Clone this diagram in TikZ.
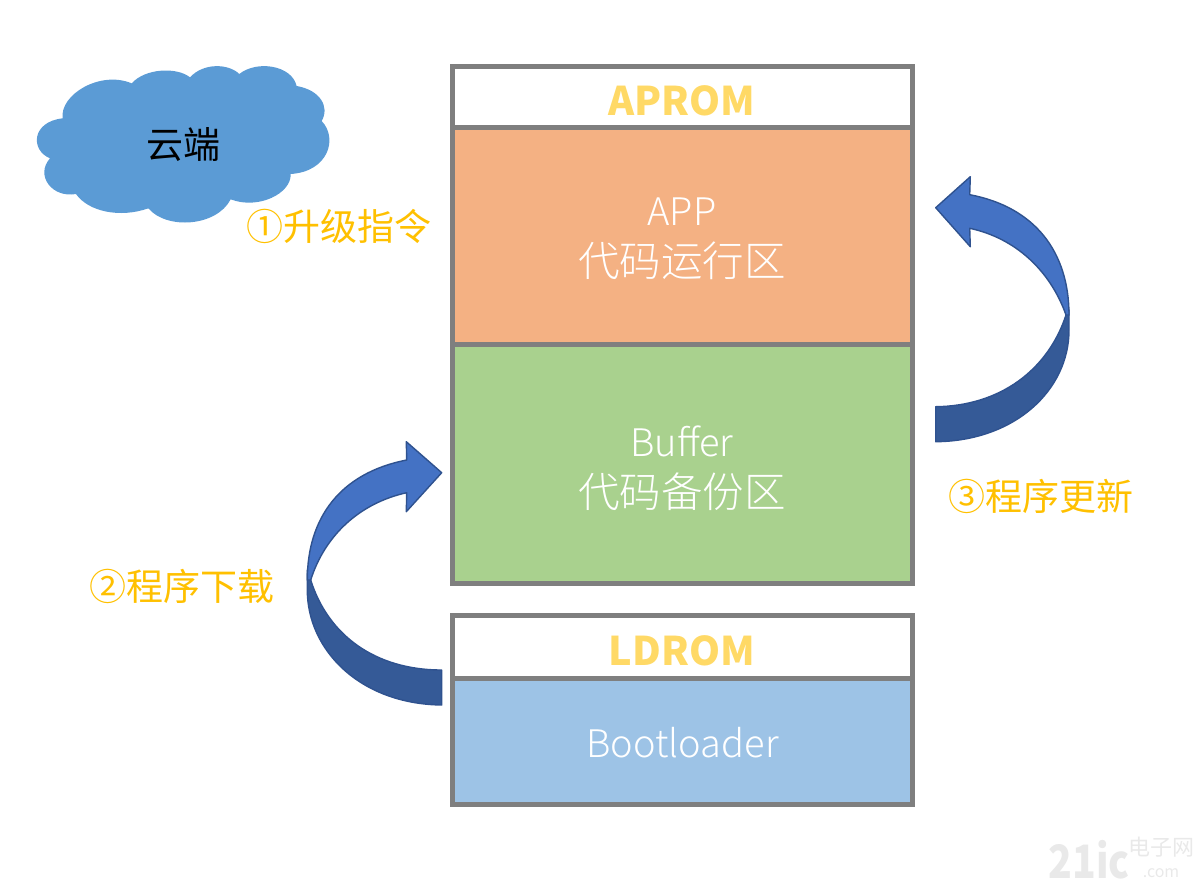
\documentclass[tikz,border=0pt]{standalone}
\usepackage{fontspec}
\setmainfont{Noto Sans CJK SC}
\newfontfamily\thinfont{Noto Sans CJK SC Light}
\usepackage{tikz}
\definecolor{memgray}{HTML}{7F7F7F}
\definecolor{appfill}{HTML}{F4B183}
\definecolor{buffill}{HTML}{A9D18E}
\definecolor{bootfill}{HTML}{9DC3E6}
\definecolor{cloudfill}{HTML}{5B9BD5}
\definecolor{arrowlight}{HTML}{4472C4}
\definecolor{arrowdark}{HTML}{355A97}
\definecolor{arrowline}{HTML}{2F528F}
\definecolor{steporange}{HTML}{FFC000}
\definecolor{romyellow}{HTML}{FFD966}
\definecolor{markgray}{HTML}{E9E9E9}
\newcommand{\zhsize}{\fontsize{41.5}{51}\selectfont}
\newcommand{\ensize}{\fontsize{38}{51}\selectfont}
\tikzset{
  membox/.style={draw=memgray, line width=5pt, minimum width=460pt, inner sep=0pt, align=center, text=white, font=\thinfont\zhsize},
  romlabel/.style={text=romyellow, inner sep=0pt, font=\bfseries\fontsize{39.5}{46}\selectfont},
  steplabel/.style={text=steporange, inner sep=0pt, font=\fontsize{37}{44}\selectfont},
  arrowtop/.style={fill=arrowlight, draw=arrowline, line width=1.4pt, line join=round},
  arrowlow/.style={fill=arrowdark, draw=arrowline, line width=1.4pt, line join=round}
}
\begin{document}
\begin{tikzpicture}[x=1pt, y=-1pt]
\useasboundingbox (0,0) rectangle (1204,884);
% memory blocks
\node [membox, minimum height=62pt] (aprom) at (682,97) {};
\node [romlabel] (apromtext) at (682,101) {APROM};
\node [membox, fill=appfill, minimum height=217pt] (app) at (682,236) {};
\node [membox, draw=none] (apptext) at (682,239) {{\ensize APP}\\代码运行区};
\node [membox, fill=buffill, minimum height=239pt] (buffer) at (682,464) {};
\node [membox, draw=none] (buffertext) at (682,468) {{\ensize Buffer}\\代码备份区};
\node [membox, minimum height=63pt] (ldrom) at (682,647) {};
\node [romlabel] (ldromtext) at (682,651) {LDROM};
\node [membox, fill=bootfill, minimum height=126pt] (boot) at (682,741) {};
\node [membox, draw=none, font=\thinfont\ensize] (boottext) at (682.5,743) {Bootloader};
% cloud
\begin{scope}[shift={(20,50)}, scale=1/3]
\fill [cloudfill] (128,205) .. controls (118,135) and (240,60) .. (335,100)
  .. controls (375,55) and (470,50) .. (510,82)
  .. controls (550,38) and (625,40) .. (658,72)
  .. controls (710,30) and (815,45) .. (830,108)
  .. controls (900,120) and (930,170) .. (905,213)
  .. controls (955,265) and (925,365) .. (812,372)
  .. controls (815,430) and (715,480) .. (632,448)
  .. controls (590,530) and (440,540) .. (385,475)
  .. controls (300,505) and (205,485) .. (168,432)
  .. controls (95,445) and (45,375) .. (90,325)
  .. controls (30,300) and (35,215) .. (128,205) -- cycle;
\end{scope}
\node [inner sep=0pt, font=\fontsize{37}{44}\selectfont] (cloudtext) at (183,145) {云端};
% step labels
\node [steplabel] (stepone) at (338.5,226) {①升级指令};
\node [steplabel] (steptwo) at (182,586) {②程序下载};
\node [steplabel] (stepthree) at (1040.5,496) {③程序更新};
% update arrow
\draw [arrowlow] (1066,315) .. controls (1048,370) and (1000,406) .. (935.7,406.7) -- (935.7,441.7) .. controls (1015,441) and (1069,390) .. (1069,330) -- (1069,310) -- cycle;
\draw [arrowtop] (935.7,207.7) -- (970.3,176.7) -- (969.7,194.7) .. controls (1035,207) and (1069,252) .. (1069,315) -- (1066,315) .. controls (1050,270) and (1015,238) .. (969.7,228.3) -- (970.3,246.7) -- cycle;
% download arrow
\draw [arrowlow] (310.7,580) .. controls (328,635) and (375,670) .. (441.7,670) -- (441.7,705) .. controls (360,704) and (307.3,650) .. (307.3,590) -- (307.3,570) -- cycle;
\draw [arrowtop] (441.7,472.7) -- (406.3,441.7) -- (406.7,460) .. controls (340,473) and (307.3,518) .. (307.3,580) -- (310.7,580) .. controls (325,535) and (360,503) .. (406.7,492.7) -- (406.3,511.7) -- cycle;
% site mark
\node [inner sep=0pt, text=markgray, font=\bfseries\fontsize{46}{46}\selectfont] (marksite) at (1089,860) {\scalebox{0.85}[1]{21ic}};
\node [inner sep=0pt, text=markgray, font=\fontsize{22}{22}\selectfont] (markname) at (1161,847) {电子网};
\node [inner sep=0pt, text=markgray, font=\itshape\fontsize{16}{16}\selectfont] (markcom) at (1161,873) {.com};
\end{tikzpicture}
\end{document}
